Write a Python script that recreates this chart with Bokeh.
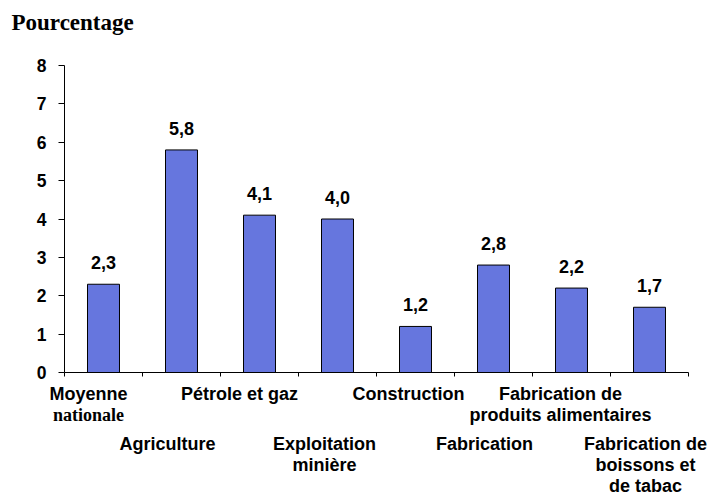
from bokeh.plotting import figure
from bokeh.models import ColumnDataSource, LabelSet, Label, FixedTicker, Range1d
from bokeh.core.properties import value
from bokeh.embed import file_html
from bokeh.resources import INLINE

# ---- data ----
categories = ["Moyenne nationale", "Agriculture", "Pétrole et gaz", "Exploitation minière",
              "Construction", "Fabrication", "Fabrication de produits alimentaires",
              "Fabrication de boissons et de tabac"]
category_lines = [["Moyenne", "nationale"], ["Agriculture"], ["Pétrole et gaz"],
                  ["Exploitation", "minière"], ["Construction"], ["Fabrication"],
                  ["Fabrication de", "produits alimentaires"],
                  ["Fabrication de", "boissons et", "de tabac"]]
values = [2.3, 5.8, 4.1, 4.0, 1.2, 2.8, 2.2, 1.7]
y_ticks = [0, 1, 2, 3, 4, 5, 6, 7, 8]
title_text = "Pourcentage"

# ---- style / layout ----
serif_words = ["nationale"]
label_x_shift = [-15, -14, -20, -13, -7, -9, -11, -4]
BAR_COLOR = "#6676de"
SANS = "Liberation Sans"
SERIF = "Liberation Serif"
FIG_W, FIG_H = 710, 495
AXIS_LEFT, AXIS_RIGHT = 64, 688   # pixel columns of the x axis ends
TOP_ROW, ZERO_ROW = 65, 372       # pixel rows of the top tick and of the baseline
LINE_GAP = 21

n = len(values)
pos = [i + 0.5 for i in range(n)]
px_x = (AXIS_RIGHT - AXIS_LEFT) / n
px_y = (ZERO_ROW - TOP_ROW) / (y_ticks[-1] - y_ticks[0])
x_lo = -AXIS_LEFT / px_x
x_hi = n + (FIG_W - AXIS_RIGHT) / px_x
y_lo = y_ticks[0] - (FIG_H - ZERO_ROW) / px_y
y_hi = y_ticks[-1] + TOP_ROW / px_y

bar_src = ColumnDataSource(dict(
    x=pos, value=values,
    label=[f"{v:.1f}".replace(".", ",") for v in values]))

sans = dict(x=[], y=[], text=[], xo=[], yo=[])
serif = dict(x=[], y=[], text=[], xo=[], yo=[])
for i, lines in enumerate(category_lines):
    row = i % 2
    for k, line in enumerate(lines):
        d = serif if line in serif_words else sans
        d["x"].append(pos[i])
        d["y"].append(0)
        d["text"].append(line)
        d["xo"].append(label_x_shift[i])
        d["yo"].append(-(27 + 50 * row + LINE_GAP * k))

p = figure(width=FIG_W, height=FIG_H, output_backend="svg", toolbar_location=None,
           title=None,
           x_range=Range1d(x_lo, x_hi), y_range=Range1d(y_lo, y_hi),
           min_border_left=0, min_border_right=0, min_border_top=0,
           min_border_bottom=0)
p.outline_line_color = None
p.xgrid.visible = False
p.ygrid.visible = False

p.vbar(x="x", top="value", width=0.41, source=bar_src,
       fill_color=BAR_COLOR, line_color="black", line_width=1)

p.add_layout(LabelSet(x="x", y="value", text="label", source=bar_src,
                      y_offset=15, text_align="center", text_baseline="alphabetic",
                      text_font=value(SANS), text_font_style="bold",
                      text_font_size="18px", text_color="black"))

for d, font, size in ((sans, SANS, "18px"), (serif, SERIF, "18px")):
    src = ColumnDataSource(d)
    p.add_layout(LabelSet(x="x", y="y", text="text", source=src,
                          x_offset="xo", y_offset="yo",
                          text_align="center", text_baseline="alphabetic",
                          text_font=value(font), text_font_style="bold",
                          text_font_size=size, text_color="black"))

ya = p.yaxis[0]
ya.ticker = FixedTicker(ticks=y_ticks)
ya.bounds = (y_ticks[0], y_ticks[-1])
ya.fixed_location = 0
ya.major_tick_out = 6
ya.major_tick_in = 0
ya.minor_tick_line_color = None
ya.axis_line_color = "black"
ya.major_tick_line_color = "black"
ya.major_label_text_font = SANS
ya.major_label_text_font_style = "bold"
ya.major_label_text_font_size = "17.5px"
ya.major_label_text_color = "black"
ya.major_label_standoff = 12

xa = p.xaxis[0]
xticks = list(range(n + 1))
xa.ticker = FixedTicker(ticks=xticks)
xa.bounds = (0, n)
xa.fixed_location = 0
xa.major_tick_out = 4
xa.major_tick_in = 0
xa.minor_tick_line_color = None
xa.axis_line_color = "black"
xa.major_tick_line_color = "black"
xa.major_label_overrides = {t: "" for t in xticks}

p.add_layout(Label(x=11, y=FIG_H - 22, x_units="screen", y_units="screen",
                   text=title_text, text_font=SERIF, text_font_style="bold",
                   text_font_size="23px", text_color="black",
                   text_baseline="alphabetic", text_align="left"))

open("out.html", "w").write(file_html(p, INLINE))
